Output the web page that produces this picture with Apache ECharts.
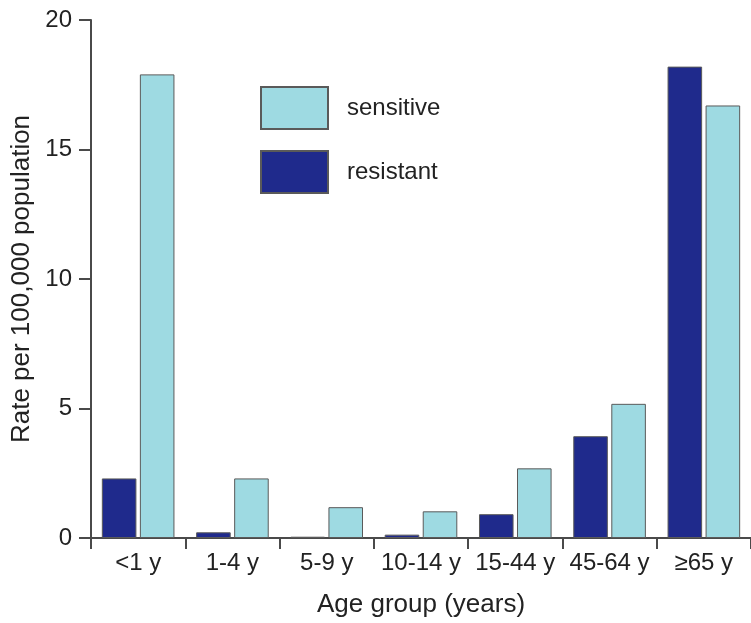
<!DOCTYPE html>
<html>
<head>
<meta charset="utf-8">
<title>Rate by age group</title>
<script src="https://cdn.jsdelivr.net/npm/echarts@6/dist/echarts.min.js"></script>
<style>
  html, body { margin: 0; padding: 0; background: #fff; }
  #chart { width: 751px; height: 623px; }
</style>
</head>
<body>
<div id="chart"></div>
<script>
// data
var ageGroups = ['<1 y', '1-4 y', '5-9 y', '10-14 y', '15-44 y', '45-64 y', '\u226565 y'];
var resistant = [2.3, 0.22, 0.05, 0.13, 0.92, 3.93, 18.2];
var sensitive = [17.9, 2.3, 1.19, 1.03, 2.69, 5.18, 16.7];
var yTicks = [0, 5, 10, 15, 20];

var font = 'Liberation Sans';
var axisColor = '#4a4a4a';

var myChart = echarts.init(document.getElementById('chart'));
var option = {
    animation: false,
    textStyle: { fontFamily: font },
    legend: {
        orient: 'vertical',
        left: 260,
        top: 86,
        padding: 0,
        icon: 'rect',
        itemWidth: 67,
        itemHeight: 42,
        itemGap: 20,
        data: ['sensitive', 'resistant'],
        textStyle: { fontSize: 24, color: '#222', padding: [0, 0, 0, 14] }
    },
    grid: { left: 91, top: 20, right: -8, bottom: 82 },
    xAxis: {
        type: 'category',
        data: ageGroups,
        name: 'Age group (years)',
        nameLocation: 'middle',
        nameGap: 54,
        nameTextStyle: { fontSize: 26, color: '#222' },
        axisLine: { lineStyle: { color: axisColor, width: 2 } },
        axisTick: { show: true, interval: 0, length: 11, lineStyle: { color: axisColor, width: 2 } },
        axisLabel: { interval: 0, hideOverlap: false, fontSize: 24, color: '#222', margin: 13 }
    },
    yAxis: {
        type: 'value',
        min: yTicks[0],
        max: yTicks[yTicks.length - 1],
        interval: 5,
        name: 'Rate per 100,000 population',
        nameLocation: 'middle',
        nameGap: 54,
        nameTextStyle: { fontSize: 26, color: '#222' },
        axisLine: { show: true, lineStyle: { color: axisColor, width: 2 } },
        axisTick: { show: true, length: 12, lineStyle: { color: axisColor, width: 2 } },
        axisLabel: { fontSize: 24, color: '#222', margin: 19 },
        splitLine: { show: false }
    },
    series: [
        {
            name: 'resistant',
            type: 'bar',
            data: resistant,
            barCategoryGap: '23%',
            barGap: '10%',
            itemStyle: { color: '#1f2a8c', borderColor: '#5a5a5a', borderWidth: 1 }
        },
        {
            name: 'sensitive',
            type: 'bar',
            data: sensitive,
            barCategoryGap: '23%',
            barGap: '10%',
            itemStyle: { color: '#9edae2', borderColor: '#5a5a5a', borderWidth: 1 }
        }
    ]
};
myChart.setOption(option);
</script>
</body>
</html>
